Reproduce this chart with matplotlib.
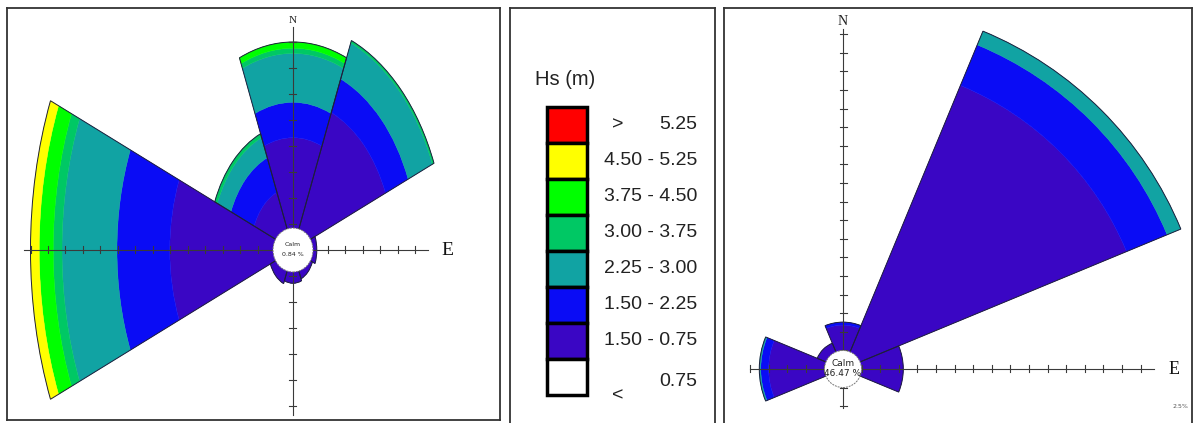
import numpy as np
import matplotlib
matplotlib.use('Agg')
import matplotlib.pyplot as plt
from matplotlib.patches import Wedge, Ellipse, Rectangle

W, H = 1194, 423
DPI = 100

# Hs classes from 0.75-1.50 m upwards
hs_colors = ['#3a06c4', '#0a0cf5', '#11a3a3', '#00c864', '#00ff00', '#ffff00', '#ff0000']

legend_colors = ['#ff0000', '#ffff00', '#00ff00', '#00c864', '#11a3a3', '#0a0cf5', '#3a06c4', '#ffffff']
legend_labels = ['5.25', '4.50 - 5.25', '3.75 - 4.50', '3.00 - 3.75',
                 '2.25 - 3.00', '1.50 - 2.25', '1.50 - 0.75', '0.75']

directions = [0, 45, 90, 135, 180, 225, 270, 315]

# frequency (%) per direction for each Hs class
left_075_150 = [10.8, 14.3, 3.4, 3.0, 3.2, 3.5, 17.6, 6.0]
left_150_225 = [3.4, 3.5, 0.0, 0.0, 0.0, 0.0, 7.55, 3.6]
left_225_300 = [4.7, 3.75, 0.0, 0.0, 0.0, 0.0, 7.85, 2.1]
left_300_375 = [0.5, 0.25, 0.0, 0.0, 0.0, 0.0, 1.25, 0.4]
left_375_450 = [0.6, 0.0, 0.0, 0.0, 0.0, 0.0, 2.0, 0.0]
left_450_525 = [0.0, 0.0, 0.0, 0.0, 0.0, 0.0, 1.25, 0.0]
left_calm = '0.84 %'

right_075_150 = [5.9, 41.25, 8.1, 0.0, 0.0, 0.0, 10.0, 3.75]
right_150_225 = [0.4, 5.9, 0.0, 0.0, 0.0, 0.0, 1.05, 0.0]
right_225_300 = [0.0, 2.0, 0.0, 0.0, 0.0, 0.0, 0.2, 0.0]
right_calm = '46.47 %'

ring_step = 2.5  # % between axis ticks

fig = plt.figure(figsize=(W / DPI, H / DPI), dpi=DPI)


def px_axes(x0, y0, x1, y1):
    ax = fig.add_axes([x0 / W, 1 - y1 / H, (x1 - x0) / W, (y1 - y0) / H])
    ax.set_xticks([])
    ax.set_yticks([])
    for s in ax.spines.values():
        s.set_color('#333333')
        s.set_linewidth(1.3)
    return ax


def draw_rose(ax, box, cx, cy, sx, sy, bands, calm, calm_r, xr, yr, n_fs, e_fs, c_fs):
    x0, y0, x1, y1 = box
    ax.set_xlim((x0 - cx) / sx, (x1 - cx) / sx)
    ax.set_ylim((cy - y1) / sy, (cy - y0) / sy)
    cum = np.cumsum(np.array(bands), axis=0)
    for j, d in enumerate(directions):
        t1, t2 = 90 - d - 22.5, 90 - d + 22.5
        inner = 0.0
        for i in range(len(bands)):
            outer = cum[i, j]
            if outer > inner:
                ax.add_patch(Wedge((0, 0), outer, t1, t2, width=outer - inner,
                                   fc=hs_colors[i], ec=hs_colors[i], lw=0.3, zorder=2))
            inner = outer
        if inner > 0:
            ax.add_patch(Wedge((0, 0), inner, t1, t2, fill=False,
                               ec='#1e1e3c', lw=0.7, zorder=3))

    # N-S / E-W cross with tick marks
    ax.plot(xr, [0, 0], color='#3a3a3a', lw=0.8, zorder=4)
    ax.plot([0, 0], yr, color='#3a3a3a', lw=0.8, zorder=4)
    for k in np.arange(np.ceil(xr[0] / ring_step), xr[1] / ring_step + 0.01):
        if k != 0:
            ax.plot([k * ring_step] * 2, [-3.5 / sy, 3.5 / sy], color='#3a3a3a', lw=0.8, zorder=4)
    for k in np.arange(np.ceil(yr[0] / ring_step), yr[1] / ring_step + 0.01):
        if k != 0:
            ax.plot([-3.5 / sx, 3.5 / sx], [k * ring_step] * 2, color='#3a3a3a', lw=0.8, zorder=4)

    ax.text(0, yr[1] + 7 / sy, 'N', ha='center', va='center', fontsize=n_fs,
            family='Liberation Serif', color='#222222')
    ax.text(xr[1] + 20 / sx, 0, 'E', ha='center', va='center', fontsize=e_fs,
            family='Liberation Serif', color='#111111')

    ax.add_patch(Ellipse((0, 0), 2 * calm_r[0] / sx, 2 * calm_r[1] / sy, fc='white',
                         ec='#777777', lw=0.7, ls=(0, (2, 1)), zorder=5))
    ax.text(0, 6 / sy, 'Calm', ha='center', va='center', fontsize=c_fs, color='#222222', zorder=6)
    ax.text(0, -5 / sy, calm, ha='center', va='center', fontsize=c_fs, color='#222222', zorder=6)


# left rose
ax_l = px_axes(7, 8, 500, 420)
draw_rose(ax_l, (7, 8, 500, 420), 293, 250, 7.0, 10.4,
          [left_075_150, left_150_225, left_225_300, left_300_375, left_375_450, left_450_525],
          left_calm, (20, 22), (-38.5, 19.25), (-15.9, 21.4), 8, 14, 4.5)

# right rose
ax_r = px_axes(724, 8, 1192, 424)
ax_r.spines['bottom'].set_visible(False)
draw_rose(ax_r, (724, 8, 1192, 424), 843, 369, 7.44, 7.44,
          [right_075_150, right_150_225, right_225_300],
          right_calm, (18.5, 18.5), (-12.5, 41.75), (-5.25, 45.75), 10, 13, 6.5)
ax_r.text((1180 - 843) / 7.44, (369 - 407) / 7.44, '2.5%', ha='center', va='center',
          fontsize=4.5, color='#555555')

# legend panel
ax_g = px_axes(510, 8, 715, 424)
ax_g.spines['bottom'].set_visible(False)
ax_g.set_xlim(510, 715)
ax_g.set_ylim(424, 8)
lab_font = ['Liberation Sans', 'DejaVu Sans']
ax_g.text(565, 80, 'Hs (m)', ha='center', va='center', fontsize=14.5, family=lab_font, color='#222222')
row_h = 36.0
for i, (c, lab) in enumerate(zip(legend_colors, legend_labels)):
    top = 107 + i * row_h
    ax_g.add_patch(Rectangle((547, top), 40, row_h, fc=c, ec='black', lw=2.5))
    yc = top + row_h / 2
    if i == 0:
        ax_g.text(618, yc, '>', ha='center', va='center', fontsize=14, family=lab_font, color='#222222')
    if i == len(legend_labels) - 1:
        ax_g.text(618, yc + 19, '<', ha='center', va='center', fontsize=14, family=lab_font, color='#222222')
        yc += 5
    ax_g.text(697, yc, lab, ha='right', va='center', fontsize=14, family=lab_font, color='#222222')

fig.savefig('out.png', dpi=DPI)
